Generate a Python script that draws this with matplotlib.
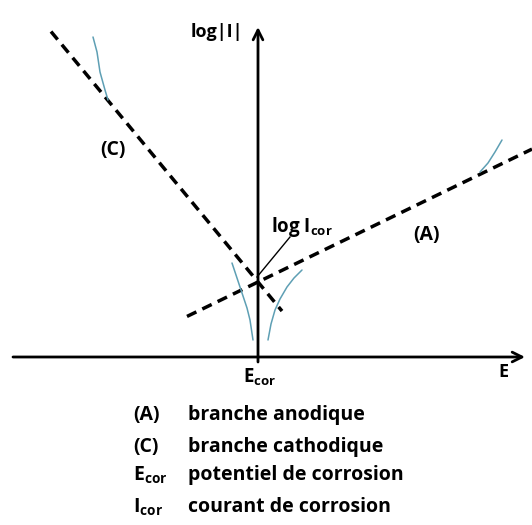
import matplotlib
matplotlib.use("Agg")
import matplotlib.pyplot as plt
import numpy as np

plt.rcParams['font.family'] = ['Open Sans', 'DejaVu Sans']
plt.rcParams['mathtext.fontset'] = 'custom'
plt.rcParams['mathtext.rm'] = 'Open Sans:bold'
plt.rcParams['mathtext.it'] = 'Open Sans:bold'
plt.rcParams['mathtext.bf'] = 'Open Sans:bold'

# Corrosion point (E_cor, log I_cor) and Tafel slopes (schematic units)
E_cor = 0.0
log_I_cor = 0.75
anodic_slope = 0.485
cathodic_slope = -1.21

# Extent of the dashed Tafel lines along E
anodic_E_range = [-0.71, 2.74]
cathodic_E_range = [-2.07, 0.24]

# Measured polarisation curve segments (E, log|I|)
curve_top_left_E = [-1.65, -1.61, -1.58, -1.53, -1.50]
curve_top_left_logI = [3.20, 3.05, 2.85, 2.67, 2.57]
curve_cath_E = [-0.26, -0.21, -0.16, -0.11, -0.08, -0.05]
curve_cath_logI = [0.94, 0.79, 0.64, 0.49, 0.37, 0.17]
curve_anod_E = [0.44, 0.36, 0.29, 0.22, 0.17, 0.13, 0.10]
curve_anod_logI = [0.87, 0.79, 0.70, 0.58, 0.47, 0.33, 0.17]
curve_top_right_E = [2.22, 2.30, 2.37, 2.44]
curve_top_right_logI = [1.85, 1.94, 2.05, 2.17]

legend_keys = ["(A)", "(C)", r"E$_{\mathrm{cor}}$", r"I$_{\mathrm{cor}}$"]
legend_texts = ["branche anodique", "branche cathodique",
                "potentiel de corrosion", "courant de corrosion"]

fig = plt.figure(figsize=(5.32, 5.25), dpi=100)
ax = fig.add_axes([0, 0, 1, 1])
ax.set_xlim(-2.58, 2.74)
ax.set_ylim(-1.68, 3.57)
ax.axis('off')

# Axes with open arrow heads
arrow_kw = dict(arrowstyle='->,head_length=0.7,head_width=0.35', lw=2.0,
                color='black', shrinkA=0, shrinkB=0)
ax.annotate('', xy=(E_cor, 3.30), xytext=(E_cor, -0.05), arrowprops=arrow_kw)
ax.annotate('', xy=(2.67, 0.0), xytext=(-2.45, 0.0), arrowprops=arrow_kw)

# Tafel lines
dash_kw = dict(color='black', lw=2.5, linestyle=(0, (3.0, 1.9)), solid_capstyle='butt')
Ea = np.array(anodic_E_range)
Ec = np.array(cathodic_E_range)
ax.plot(Ea, log_I_cor + anodic_slope * (Ea - E_cor), **dash_kw)
ax.plot(Ec, log_I_cor + cathodic_slope * (Ec - E_cor), **dash_kw)

# Measured curves
curve_kw = dict(color='#5e9fb4', lw=1.1, solid_capstyle='round')
ax.plot(curve_top_left_E, curve_top_left_logI, **curve_kw)
ax.plot(curve_cath_E, curve_cath_logI, **curve_kw)
ax.plot(curve_anod_E, curve_anod_logI, **curve_kw)
ax.plot(curve_top_right_E, curve_top_right_logI, **curve_kw)

# Labels
tw = 'bold'
ax.text(-0.15, 3.25, "log|I|", ha='right', va='center', fontsize=13, weight=tw)
ax.text(-1.45, 2.07, "(C)", ha='center', va='center', fontsize=14, weight=tw)
ax.text(1.69, 1.22, "(A)", ha='center', va='center', fontsize=14, weight=tw)
ax.text(0.13, 1.30, r"log I$_{\mathrm{cor}}$", ha='left', va='center', fontsize=13.5, weight=tw)
ax.plot([0.32, -0.01], [1.20, 0.80], color='black', lw=1.0)
ax.text(0.02, -0.20, r"E$_{\mathrm{cor}}$", ha='center', va='center', fontsize=13.5, weight=tw)
ax.text(2.45, -0.15, "E", ha='center', va='center', fontsize=13, weight=tw)

rows_y = [-0.58, -0.90, -1.18, -1.50]
for key, txt, yy in zip(legend_keys, legend_texts, rows_y):
    ax.text(-1.25, yy, key, ha='left', va='center', fontsize=14, weight=tw)
    ax.text(-0.70, yy, txt, ha='left', va='center', fontsize=14, weight=tw)

fig.savefig("out.png", dpi=100, facecolor='white')
